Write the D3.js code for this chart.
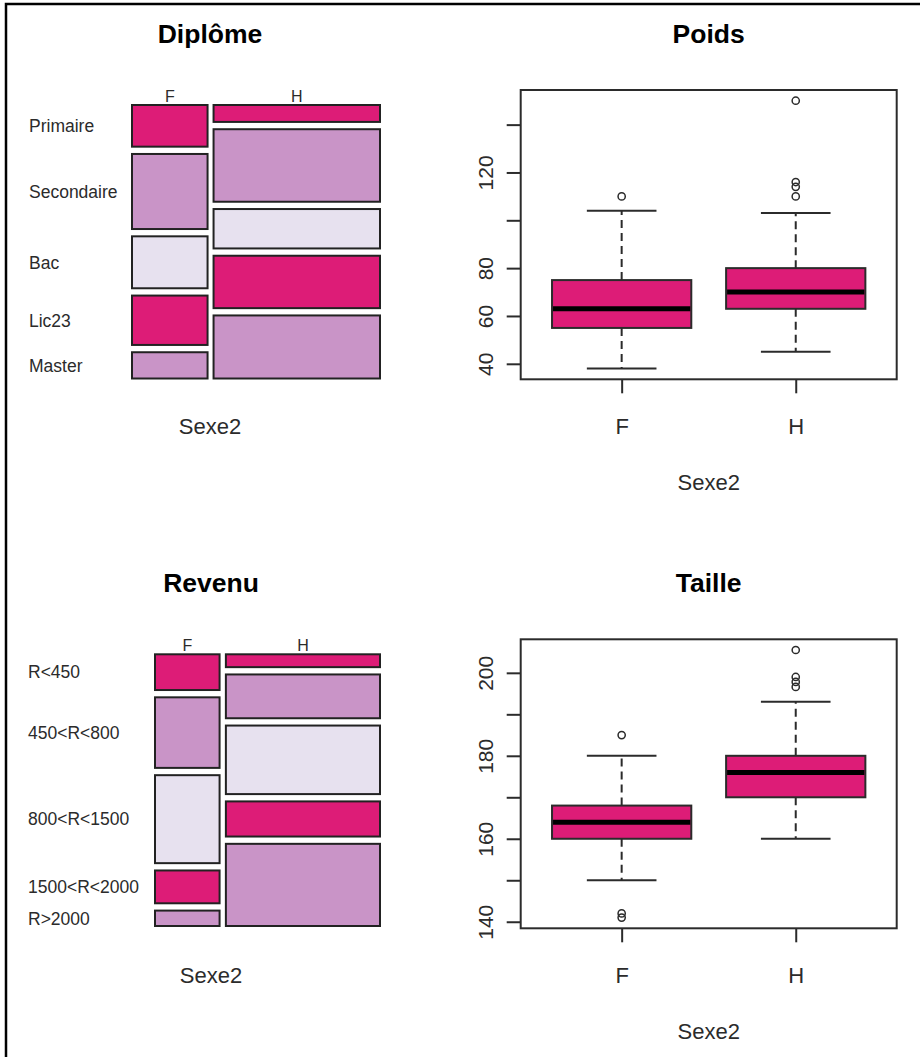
<!DOCTYPE html>
<html>
<head>
<meta charset="utf-8">
<script src="https://cdn.jsdelivr.net/npm/d3@7"></script>
<style>
  html, body { margin: 0; padding: 0; background: #fff; }
  svg { display: block; font-family: "Liberation Sans", Arial, sans-serif; }
</style>
</head>
<body>
<svg id="chart" width="920" height="1057"></svg>
<script>
// ---------- DATA ----------
const sexeLevels = ["F", "H"];

const diplomeLevels = ["Primaire", "Secondaire", "Bac", "Lic23", "Master"];
const diplomeF = [17, 30, 21, 20, 11];
const diplomeH = [16, 63, 35, 46, 55];

const revenuLevels = ["R<450", "450<R<800", "800<R<1500", "1500<R<2000", "R>2000"];
const revenuF = [13, 25, 31, 12, 6];
const revenuH = [12, 37, 57, 30, 68];

const mosaicColors = ["#DD1C77", "#C994C7", "#E7E1EF"];

// boxplot stats: [lowerWhisker, Q1, median, Q3, upperWhisker]
const poidsF = [38, 55, 63, 75, 104];
const poidsH = [45, 63, 70, 80, 103];
const poidsOutF = [110];
const poidsOutH = [150, 116, 114, 110];
const poidsTicks = [40, 60, 80, 100, 120, 140];
const poidsTickLabels = ["40", "60", "80", "120"];

const tailleF = [150, 160, 164, 168, 180];
const tailleH = [160, 170, 176, 180, 193];
const tailleOutF = [185, 142, 141];
const tailleOutH = [205.5, 199, 197.8, 196.6];
const tailleTicks = [140, 150, 160, 170, 180, 190, 200];
const tailleTickLabels = ["140", "160", "180", "200"];

const boxColor = "#DD1C77";

// ---------- DRAW ----------
const svg = d3.select("#chart");
const ink = "#2b2b2b";

// outer frame (left and top edges)
svg.append("path")
  .attr("d", d3.line()([[6, 1057], [6, 4], [920, 4]]))
  .attr("fill", "none").attr("stroke", "#000").attr("stroke-width", 2.5);

function drawMosaic(cfg) {
  const g = svg.append("g");
  const counts = [cfg.countsF, cfg.countsH];
  const totals = counts.map(c => d3.sum(c));
  const N = d3.sum(totals);
  const nCols = counts.length, nRows = cfg.levels.length;
  const xs = d3.scaleLinear().domain([0, N]).range([0, (cfg.x1 - cfg.x0) - cfg.gapX * (nCols - 1)]);

  let cumX = 0;
  counts.forEach((col, j) => {
    const colX = cfg.x0 + xs(cumX) + j * cfg.gapX;
    const colW = xs(totals[j]);
    const ys = d3.scaleLinear().domain([0, totals[j]])
      .range([0, (cfg.y1 - cfg.y0) - cfg.gapY * (nRows - 1)]);
    let cumY = 0;
    const cells = col.map((v, i) => {
      const c = { i, y: cfg.y0 + ys(cumY) + i * cfg.gapY, h: ys(v) };
      cumY += v;
      return c;
    });
    g.selectAll(null).data(cells).join("rect")
      .attr("x", colX + 1).attr("y", d => d.y + 1)
      .attr("width", colW - 2).attr("height", d => d.h - 2)
      .attr("fill", d => mosaicColors[d.i % mosaicColors.length])
      .attr("stroke", "#222").attr("stroke-width", 2);
    // column label
    g.append("text")
      .attr("x", colX + colW / 2).attr("y", cfg.y0 - 2)
      .attr("text-anchor", "middle").attr("font-size", 16).attr("fill", ink)
      .text(sexeLevels[j]);
    // row labels from first column
    if (j === 0) {
      g.selectAll(null).data(cells).join("text")
        .attr("x", cfg.labelX).attr("y", d => d.y + d.h / 2)
        .attr("dy", "0.36em")
        .attr("font-size", 17.5).attr("fill", ink)
        .text(d => cfg.levels[d.i]);
    }
    cumX += totals[j];
  });

  g.append("text").attr("x", cfg.titleX).attr("y", cfg.titleY)
    .attr("text-anchor", "middle").attr("font-size", 26.5).attr("font-weight", "bold")
    .attr("fill", "#000").text(cfg.title);
  g.append("text").attr("x", cfg.titleX).attr("y", cfg.xlabY)
    .attr("text-anchor", "middle").attr("font-size", 22).attr("fill", ink)
    .text("Sexe2");
}

function drawBoxplot(cfg) {
  const g = svg.append("g");
  const stats = [cfg.F, cfg.H];
  const outs = [cfg.outF, cfg.outH];
  const all = stats.flat().concat(outs.flat());
  const [mn, mx] = d3.extent(all);
  const pad = (mx - mn) * 0.04;
  const y = d3.scaleLinear().domain([mn - pad, mx + pad]).range([cfg.y1, cfg.y0]);
  const x = d3.scaleLinear().domain([0.42, 2.58]).range([cfg.x0, cfg.x1]);

  stats.forEach((s, k) => {
    const c = k + 1;
    const [lo, q1, med, q3, hi] = s;
    // whiskers
    g.append("line").attr("x1", x(c)).attr("x2", x(c)).attr("y1", y(q3)).attr("y2", y(hi))
      .attr("stroke", ink).attr("stroke-width", 2).attr("stroke-dasharray", "8,5");
    g.append("line").attr("x1", x(c)).attr("x2", x(c)).attr("y1", y(q1)).attr("y2", y(lo))
      .attr("stroke", ink).attr("stroke-width", 2).attr("stroke-dasharray", "8,5");
    // caps
    [lo, hi].forEach(v => {
      g.append("line").attr("x1", x(c - 0.2)).attr("x2", x(c + 0.2)).attr("y1", y(v)).attr("y2", y(v))
        .attr("stroke", ink).attr("stroke-width", 2);
    });
    // box
    g.append("rect").attr("x", x(c - 0.4)).attr("y", y(q3))
      .attr("width", x(c + 0.4) - x(c - 0.4)).attr("height", y(q1) - y(q3))
      .attr("fill", cfg.color).attr("stroke", ink).attr("stroke-width", 2);
    // median
    g.append("line").attr("x1", x(c - 0.4) + 1).attr("x2", x(c + 0.4) - 1).attr("y1", y(med)).attr("y2", y(med))
      .attr("stroke", "#000").attr("stroke-width", 5);
    // outliers
    g.selectAll(null).data(outs[k]).join("circle")
      .attr("cx", x(c)).attr("cy", d => y(d)).attr("r", 3.6)
      .attr("fill", "none").attr("stroke", ink).attr("stroke-width", 1.5);
  });

  // frame
  g.append("rect").attr("x", cfg.x0).attr("y", cfg.y0)
    .attr("width", cfg.x1 - cfg.x0).attr("height", cfg.y1 - cfg.y0)
    .attr("fill", "none").attr("stroke", ink).attr("stroke-width", 2);

  // y axis
  const ya = g.append("g").attr("transform", `translate(${cfg.x0},0)`)
    .call(d3.axisLeft(y).tickValues(cfg.ticks).tickSize(14).tickFormat(""));
  ya.select(".domain").remove();
  ya.selectAll(".tick line").attr("stroke", ink).attr("stroke-width", 2);
  ya.selectAll(".tick").each(function(d) {
    const lab = String(d);
    if (cfg.tickLabels.includes(lab)) {
      d3.select(this).append("text")
        .attr("transform", "translate(-28,0) rotate(-90)")
        .attr("text-anchor", "middle").attr("fill", ink)
        .attr("font-size", 21).attr("font-family", "Liberation Sans, Arial, sans-serif")
        .text(lab);
    }
  });

  // x axis
  const xa = g.append("g").attr("transform", `translate(0,${cfg.y1})`)
    .call(d3.axisBottom(x).tickValues([1, 2]).tickSize(14).tickFormat((d, i) => sexeLevels[i]));
  xa.select(".domain").remove();
  xa.selectAll(".tick line").attr("stroke", ink).attr("stroke-width", 2);
  xa.selectAll(".tick text").attr("y", 55).attr("dy", null)
    .attr("fill", ink).attr("font-size", 22).attr("font-family", "Liberation Sans, Arial, sans-serif");

  g.append("text").attr("x", (cfg.x0 + cfg.x1) / 2).attr("y", cfg.y1 + 111)
    .attr("text-anchor", "middle").attr("font-size", 22).attr("fill", ink).text("Sexe2");
  g.append("text").attr("x", (cfg.x0 + cfg.x1) / 2).attr("y", cfg.titleY)
    .attr("text-anchor", "middle").attr("font-size", 26.5).attr("font-weight", "bold")
    .attr("fill", "#000").text(cfg.title);
}

drawMosaic({
  x0: 131, x1: 381, y0: 104, y1: 379.5, gapX: 4, gapY: 5.3,
  levels: diplomeLevels, countsF: diplomeF, countsH: diplomeH,
  labelX: 29, title: "Diplôme", titleX: 210, titleY: 43, xlabY: 434
});

drawMosaic({
  x0: 154, x1: 381, y0: 653.3, y1: 927, gapX: 4.3, gapY: 5.3,
  levels: revenuLevels, countsF: revenuF, countsH: revenuH,
  labelX: 28, title: "Revenu", titleX: 211, titleY: 592, xlabY: 983
});

drawBoxplot({
  x0: 520.7, x1: 896.7, y0: 90, y1: 379.3,
  F: poidsF, H: poidsH, outF: poidsOutF, outH: poidsOutH,
  ticks: poidsTicks, tickLabels: poidsTickLabels, color: boxColor,
  title: "Poids", titleY: 43
});

drawBoxplot({
  x0: 520.7, x1: 896.7, y0: 639.3, y1: 928.3,
  F: tailleF, H: tailleH, outF: tailleOutF, outH: tailleOutH,
  ticks: tailleTicks, tickLabels: tailleTickLabels, color: boxColor,
  title: "Taille", titleY: 592
});
</script>
</body>
</html>
